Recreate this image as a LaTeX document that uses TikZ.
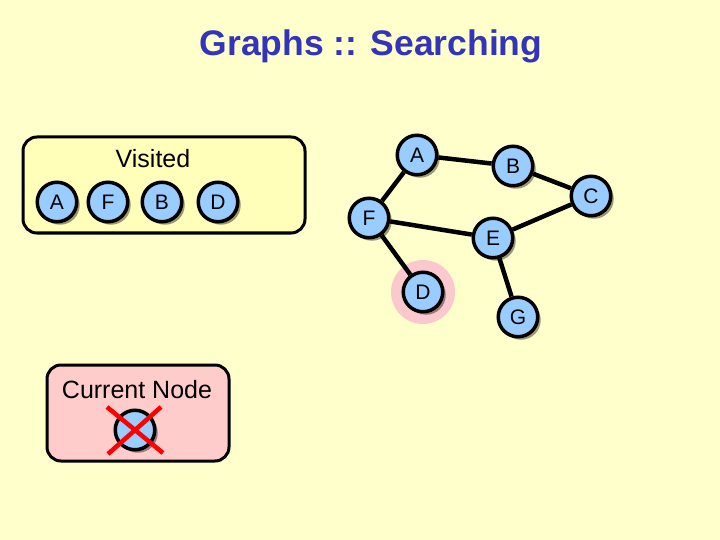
\documentclass[tikz,border=0pt]{standalone}
\usepackage{fontspec}
\setmainfont{Liberation Sans}
\usetikzlibrary{shadows}
\definecolor{bgyellow}{RGB}{255,255,204}
\definecolor{boxyellow}{RGB}{255,255,185}
\definecolor{boxpink}{RGB}{255,204,204}
\definecolor{halopink}{RGB}{250,200,205}
\definecolor{nodeblue}{RGB}{153,204,255}
\definecolor{titleblue}{RGB}{51,51,187}

\tikzset{
  gnode/.style={circle,draw,line width=3.5pt,fill=nodeblue,minimum size=39.5pt,inner sep=0pt,
    font=\fontsize{21}{21}\selectfont,
    drop shadow={shadow xshift=3pt,shadow yshift=-3pt,fill=black,opacity=0.4}},
  listbox/.style={draw,line width=3pt,rounded corners=14pt},
  boxlabel/.style={font=\fontsize{25}{25}\selectfont},
}

\begin{document}
\begin{tikzpicture}[x=1pt,y=-1pt,line width=4.5pt]
    \fill[bgyellow] (0,0) rectangle (720,540);
    \useasboundingbox (0,0) rectangle (720,540);
    \node[text=titleblue,font=\bfseries\fontsize{35.5}{36}\selectfont] (title) at (371,46) {Graphs :: Searching};

    % visited list
    \draw[listbox,fill=boxyellow] (23,137) rectangle (305,233);
    \node[boxlabel] (visited) at (153,159) {Visited};
    \node[gnode] (vA) at (57,202) {A};
    \node[gnode] (vF) at (108,202) {F};
    \node[gnode] (vB) at (162,202) {B};
    \node[gnode] (vD) at (218,202) {D};

    % current node
    \draw[listbox,fill=boxpink] (47,365) rectangle (229,461);
    \node[boxlabel] (current) at (137,390) {Current Node};
    \node[gnode] (cur) at (135,430) {};
    \draw[red,line width=4.5pt]
      (cur.center) ++(-28,-23) coordinate (x1) -- ++(56,46) coordinate (x2)
      (cur.center) ++(26,-23) coordinate (x3) -- ++(-53,47) coordinate (x4);

    % graph
    \fill[halopink] (423,292) circle (32pt);
    \node[gnode] (A) at (417,155) {A};
    \node[gnode] (B) at (513,166) {B};
    \node[gnode] (C) at (591,196) {C};
    \node[gnode] (F) at (369,218) {F};
    \node[gnode] (E) at (493,238) {E};
    \node[gnode] (D) at (423,292) {D};
    \node[gnode] (G) at (518,317) {G};
    \draw
      (A) -- (F)
      (A) -- (B)
      (B) -- (C)
      (C) -- (E)
      (F) -- (E)
      (F) -- (D)
      (E) -- (G)
      ;
  \end{tikzpicture}
\end{document}
